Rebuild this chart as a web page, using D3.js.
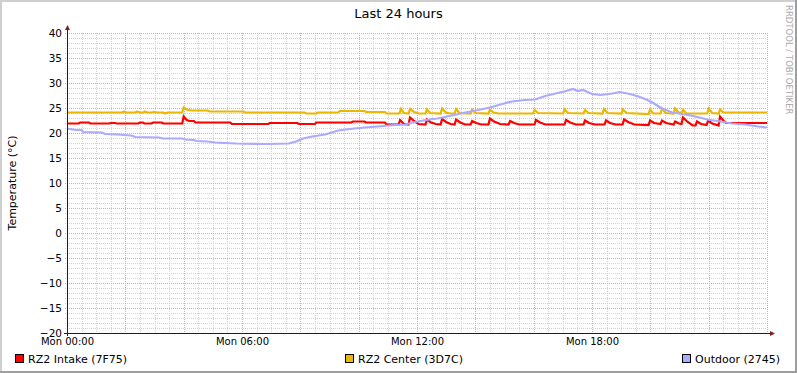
<!DOCTYPE html>
<html><head><meta charset="utf-8">
<script src="https://cdn.jsdelivr.net/npm/d3@7"></script>
<style>
html,body{margin:0;padding:0;background:#fff;}
svg{display:block;font-family:"DejaVu Sans",sans-serif;}
</style></head><body>
<svg id="chart" width="797" height="373"></svg>
<script>
// ---- data ----
const chartTitle = "Last 24 hours";
const yAxisTitle = "Temperature (°C)";
const watermark = "RRDTOOL / TOBI OETIKER";
const yTicks = [-20, -15, -10, -5, 0, 5, 10, 15, 20, 25, 30, 35, 40];
const xTickHours = [0, 6, 12, 18];
const seriesNames = ["RZ2 Intake (7F75)", "RZ2 Center (3D7C)", "Outdoor (2745)"];

const intakeHours = [0.00,0.40,0.45,0.75,0.80,1.45,1.50,1.65,1.70,2.45,2.50,2.60,2.65,2.90,2.95,3.25,3.30,3.95,4.00,4.10,4.20,4.35,4.40,5.60,5.65,6.90,6.95,7.90,7.95,8.50,8.55,9.75,9.80,10.20,10.25,10.90,10.95,11.37,11.42,11.55,11.71,11.76,11.90,12.05,12.29,12.34,12.48,12.65,12.81,12.86,13.00,13.15,13.29,13.34,13.48,13.65,13.84,13.89,14.03,14.20,14.45,14.50,14.64,14.85,15.14,15.19,15.33,15.50,16.03,16.08,16.22,16.40,17.06,17.11,17.25,17.45,17.71,17.76,17.90,18.10,18.43,18.48,18.62,18.80,19.05,19.10,19.24,19.45,19.94,19.99,20.13,20.35,20.40,20.54,20.80,20.85,20.98,21.07,21.12,21.26,21.45,21.55,21.60,21.74,21.93,21.98,22.12,22.34,22.39,22.50,22.60,24.00];
const intakeValues = [21.9,21.9,22.1,22.1,21.9,21.9,22.0,22.0,21.9,21.9,22.1,22.1,21.9,21.9,22.1,22.1,21.9,21.9,23.3,22.6,22.4,22.4,22.1,22.1,21.8,21.8,22.0,22.0,21.8,21.8,22.1,22.1,22.3,22.3,22.1,22.1,21.7,21.7,22.6,21.8,21.7,23.1,22.4,21.8,21.7,22.7,22.1,21.8,21.7,22.8,22.2,21.8,21.7,22.7,22.1,21.7,21.7,22.4,22.0,21.7,21.7,22.9,22.3,21.8,21.7,22.4,22.0,21.7,21.7,22.6,22.1,21.7,21.7,22.6,22.1,21.7,21.7,22.5,22.0,21.7,21.7,22.5,22.0,21.7,21.7,22.7,22.2,21.7,21.6,22.5,22.0,21.8,22.5,22.0,21.7,22.3,21.9,21.8,23.1,22.3,21.5,21.5,22.3,21.8,21.6,22.5,21.9,21.5,23.3,22.5,22.0,22.0];

const centerHours = [0.00,1.90,1.95,2.05,2.35,2.40,2.50,2.62,2.67,2.75,2.93,2.98,3.10,3.30,3.37,3.45,3.95,4.00,4.10,4.25,4.80,4.90,6.05,6.10,8.15,8.20,8.55,8.60,9.30,9.35,10.20,10.25,10.90,10.95,11.40,11.45,11.55,11.71,11.76,11.90,12.05,12.29,12.34,12.45,12.81,12.86,12.98,13.15,13.29,13.34,13.45,13.84,13.89,14.00,14.45,14.50,14.62,14.80,15.98,16.03,16.15,17.01,17.06,17.18,17.71,17.76,17.88,18.36,18.41,18.53,19.01,19.06,19.18,19.94,19.99,20.10,20.35,20.40,20.52,20.80,20.85,20.97,21.07,21.12,21.24,21.95,22.00,22.12,22.34,22.39,22.50,24.00];
const centerValues = [24.1,24.1,24.3,24.1,24.1,24.3,24.1,24.1,24.3,24.1,24.1,24.2,24.1,24.1,23.9,24.1,24.1,25.1,24.7,24.5,24.5,24.3,24.3,24.1,24.1,23.9,23.9,24.1,24.1,24.4,24.4,24.2,24.2,23.9,23.9,24.8,24.0,23.9,24.8,24.2,23.9,23.9,24.7,24.0,23.9,24.9,24.1,23.9,23.9,24.8,24.0,23.9,24.7,24.0,23.9,24.7,24.1,23.9,23.9,24.6,24.0,23.9,24.7,24.0,23.9,24.6,24.0,23.9,24.8,24.0,23.9,24.7,24.0,23.8,24.7,23.9,23.9,24.9,24.0,23.9,24.9,24.1,23.9,24.6,23.9,23.9,24.9,24.0,23.9,24.7,24.1,24.1];

const outdoorHours = [0.00,0.30,0.50,0.55,1.20,1.30,1.75,1.95,2.20,2.35,3.15,3.30,3.95,4.05,4.35,4.45,4.80,5.10,5.40,5.80,6.90,7.60,7.85,8.10,8.40,8.85,9.30,9.70,10.20,10.65,11.25,11.60,11.85,12.30,12.70,13.20,13.65,14.10,14.50,14.80,15.25,15.70,16.05,16.40,16.75,17.05,17.35,17.50,17.70,18.00,18.30,18.70,18.95,19.30,19.60,19.90,20.10,20.40,20.75,21.10,21.55,21.95,22.40,22.80,23.25,23.70,24.00];
const outdoorValues = [20.9,20.6,20.6,20.2,20.1,19.8,19.7,19.6,19.5,19.2,19.1,18.9,18.9,18.7,18.6,18.4,18.3,18.1,18.0,17.9,17.8,17.9,18.3,18.9,19.3,19.7,20.5,20.8,21.1,21.3,21.6,21.7,22.1,22.6,22.9,23.5,24.1,24.6,25.1,25.6,26.3,26.6,26.7,27.4,27.9,28.3,28.8,28.4,28.6,27.8,27.6,27.9,28.2,27.8,27.3,26.6,26.0,24.9,24.1,23.8,23.3,22.7,22.3,21.9,21.7,21.3,21.1];

// ---- style ----
const colors = ["#FF0000", "#EAB800", "#AAAAFF"];
const W = 797, H = 373;
const plot = {left: 67, right: 767, top: 33, bottom: 333};

const svg = d3.select("#chart");
const base = new Date(2010, 2, 1, 0, 0, 0); // a Monday
const hr = h => new Date(base.getTime() + h * 3600000);

const x = d3.scaleTime().domain([hr(0), hr(24)]).range([plot.left, plot.right]);
const y = d3.scaleLinear().domain([-20, 40]).range([plot.bottom, plot.top]);

// background & frame
svg.append("rect").attr("width", W).attr("height", H).attr("fill", "#ffffff");
svg.append("rect").attr("x", 0).attr("y", 0).attr("width", W).attr("height", 2).attr("fill", "#CFCFCF");
svg.append("rect").attr("x", 0).attr("y", 0).attr("width", 2).attr("height", H).attr("fill", "#CFCFCF");
svg.append("rect").attr("x", 0).attr("y", H - 2).attr("width", W).attr("height", 2).attr("fill", "#9E9E9E");
svg.append("rect").attr("x", W - 2).attr("y", 0).attr("width", 2).attr("height", H).attr("fill", "#9E9E9E");

// grid
const g = svg.append("g");
const minorCol = "#D2D2D2", majorCol = "#F0A0A0";
const minorY = d3.range(-20, 41, 1).filter(v => v % 5 !== 0);
g.selectAll(".hmin").data(minorY).join("line")
  .attr("x1", plot.left - 2).attr("x2", plot.right)
  .attr("y1", d => Math.round(y(d)) + 0.5).attr("y2", d => Math.round(y(d)) + 0.5)
  .attr("stroke", minorCol).attr("stroke-dasharray", "1,1");
const minorX = d3.timeMinute.every(30).range(hr(0), hr(24.01)).filter(d => d.getMinutes() !== 0 || d.getHours() % 2 !== 0);
g.selectAll(".vmin").data(minorX).join("line")
  .attr("x1", d => Math.round(x(d)) + 0.5).attr("x2", d => Math.round(x(d)) + 0.5)
  .attr("y1", plot.top).attr("y2", plot.bottom + 2)
  .attr("stroke", minorCol).attr("stroke-dasharray", "1,1");
g.selectAll(".hmaj").data(yTicks).join("line")
  .attr("x1", plot.left - 2).attr("x2", plot.right)
  .attr("y1", d => Math.round(y(d)) + 0.5).attr("y2", d => Math.round(y(d)) + 0.5)
  .attr("stroke", majorCol).attr("stroke-dasharray", "1,1");
const majorX = d3.timeHour.every(2).range(hr(0), hr(24.01));
g.selectAll(".vmaj").data(majorX).join("line")
  .attr("x1", d => Math.round(x(d)) + 0.5).attr("x2", d => Math.round(x(d)) + 0.5)
  .attr("y1", plot.top).attr("y2", plot.bottom + 2)
  .attr("stroke", majorCol).attr("stroke-dasharray", "1,1");

// axis labels via d3 axes
const yAxis = svg.append("g").attr("transform", `translate(${plot.left},0)`)
  .call(d3.axisLeft(y).tickValues(yTicks).tickSize(0).tickPadding(5).tickFormat(d3.format("d")));
yAxis.select(".domain").remove();
yAxis.selectAll("text").attr("font-family", "DejaVu Sans").attr("font-size", 10.5).attr("fill", "#000");

const xAxis = svg.append("g").attr("transform", `translate(0,${plot.bottom})`)
  .call(d3.axisBottom(x).tickValues(xTickHours.map(hr)).tickSize(0).tickPadding(5).tickFormat(d3.timeFormat("%a %H:%M")));
xAxis.select(".domain").remove();
xAxis.selectAll("text").attr("font-family", "DejaVu Sans").attr("font-size", 10).attr("fill", "#000");

// series lines
const series = [
  {hours: intakeHours, values: intakeValues},
  {hours: centerHours, values: centerValues},
  {hours: outdoorHours, values: outdoorValues}
];
const line = d3.line().x(d => x(d[0])).y(d => y(d[1]));
series.forEach((s, i) => {
  const pts = s.hours.map((h, j) => [hr(h), s.values[j]]);
  svg.append("path").datum(pts).attr("d", line)
    .attr("fill", "none").attr("stroke", colors[i]).attr("stroke-width", 2.2)
    .attr("stroke-linejoin", "miter");
});

// axis lines and arrows
svg.append("line").attr("x1", plot.left - 3).attr("x2", plot.right + 4)
  .attr("y1", plot.bottom + 0.5).attr("y2", plot.bottom + 0.5).attr("stroke", "#1F1F1F");
svg.append("line").attr("x1", plot.left + 0.5).attr("x2", plot.left + 0.5)
  .attr("y1", plot.bottom + 3).attr("y2", plot.top - 4).attr("stroke", "#1F1F1F");
svg.append("path").attr("fill", "#801F1F")
  .attr("d", `M${plot.right + 3},${plot.bottom - 2}L${plot.right + 8},${plot.bottom + 0.5}L${plot.right + 3},${plot.bottom + 3}Z`);
svg.append("path").attr("fill", "#801F1F")
  .attr("d", `M${plot.left - 2},${plot.top - 3}L${plot.left + 0.5},${plot.top - 8}L${plot.left + 3},${plot.top - 3}Z`);

// title
svg.append("text").attr("x", 398.5).attr("y", 18).attr("text-anchor", "middle")
  .attr("font-size", 13).attr("fill", "#000").text(chartTitle);
// y axis title
svg.append("text").attr("transform", `translate(16,${(plot.top + plot.bottom) / 2}) rotate(-90)`)
  .attr("text-anchor", "middle").attr("font-size", 11).attr("fill", "#000").text(yAxisTitle);
// watermark
svg.append("text").attr("transform", "translate(786,5) rotate(90)")
  .attr("font-size", 8.5).attr("fill", "#ABABAB").text(watermark);

// legend
const legendX = [15, 345, 682];
seriesNames.forEach((name, i) => {
  svg.append("rect").attr("x", legendX[i] + 0.5).attr("y", 354.5).attr("width", 8).attr("height", 8)
    .attr("fill", colors[i]).attr("stroke", "#000");
  svg.append("text").attr("x", legendX[i] + 13).attr("y", 363)
    .attr("font-size", 11).attr("fill", "#000").text(name);
});
</script>
</body></html>
